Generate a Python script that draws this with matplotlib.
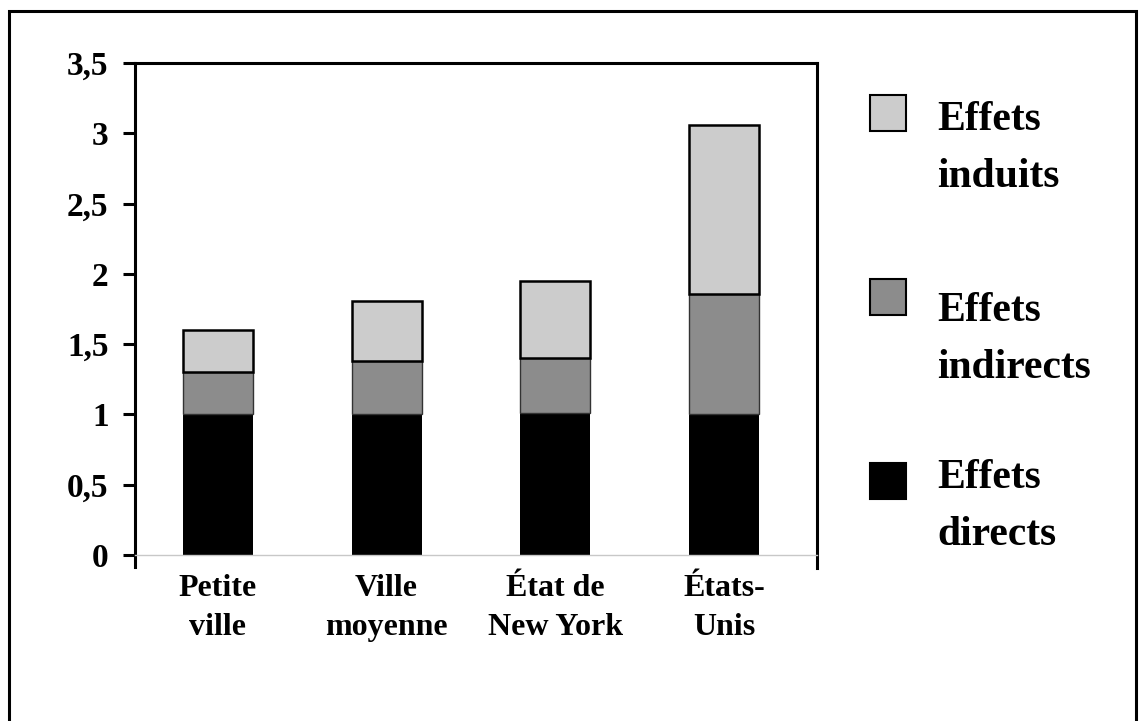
import matplotlib
matplotlib.use("Agg")
import matplotlib.pyplot as plt
from matplotlib.patches import Rectangle
import numpy as np

categories = ["Petite\nville", "Ville\nmoyenne", "État de\nNew York", "États-\nUnis"]
direct = [1.00, 1.00, 1.01, 1.00]
indirect = [0.30, 0.38, 0.39, 0.86]
induced = [0.30, 0.43, 0.55, 1.20]

series_labels = ["Effets\ninduits", "Effets\nindirects", "Effets\ndirects"]
colors = {"induits": "#cccccc", "indirects": "#8c8c8c", "directs": "#000000"}
yticks = [0, 0.5, 1, 1.5, 2, 2.5, 3, 3.5]
ytick_labels = ["0", "0,5", "1", "1,5", "2", "2,5", "3", "3,5"]

plt.rcParams["font.family"] = ["Liberation Serif", "DejaVu Serif"]
plt.rcParams["font.weight"] = "bold"

W, H = 1144, 721
fig = plt.figure(figsize=(W / 100, H / 100), dpi=100)


def fx(px):
    return px / W


def fy(py):
    return 1 - py / H


ax = fig.add_axes([fx(135), fy(555), fx(817) - fx(135), fy(63) - fy(555)])

x = np.arange(len(categories))
width = 0.415
bottom2 = np.array(direct)
bottom3 = bottom2 + np.array(indirect)

ax.bar(x, direct, width, color=colors["directs"], edgecolor="none", zorder=2)
ax.bar(x, indirect, width, bottom=bottom2, color=colors["indirects"],
       edgecolor="#333333", linewidth=1.0, zorder=2)
ax.bar(x, induced, width, bottom=bottom3, color=colors["induits"],
       edgecolor="black", linewidth=1.8, zorder=3)

ax.set_xlim(-0.49, 3.55)
ax.set_ylim(0, 3.5)
ax.set_yticks(yticks)
ax.set_yticklabels(ytick_labels, fontsize=24, fontweight="bold")
ax.set_xticks(x)
ax.set_xticklabels(categories, fontsize=23, fontweight="bold", linespacing=1.42)

ax.tick_params(axis="y", direction="out", length=9, width=2.2, pad=10)
ax.tick_params(axis="x", length=0, pad=14)

for side in ["left", "right", "top"]:
    ax.spines[side].set_linewidth(2.2)
    ax.spines[side].set_color("black")
ax.spines["left"].set_bounds(-0.085, 3.5)
ax.spines["right"].set_bounds(-0.09, 3.5)
ax.spines["bottom"].set_color("#c8c8c8")
ax.spines["bottom"].set_linewidth(1.0)

# legend drawn by hand to match the layout of the original
# (square top, baseline of the second text line), in pixels
legend_items = [
    ("induits", series_labels[0], 95, 187),
    ("indirects", series_labels[1], 279, 378),
    ("directs", series_labels[2], 463, 545),
]
for key, label, sq_top, base in legend_items:
    fig.patches.append(Rectangle((fx(870), fy(sq_top + 36)), fx(36), fy(0) - fy(36),
                                 transform=fig.transFigure, facecolor=colors[key],
                                 edgecolor="black", linewidth=1.5))
    fig.text(fx(937), fy(base), label, fontsize=30, fontweight="bold",
             va="baseline", ha="left", linespacing=1.65)

# outer frame
fig.patches.append(Rectangle((fx(9), fy(740)), fx(1136) - fx(9), fy(11) - fy(740),
                             transform=fig.transFigure, fill=False,
                             edgecolor="black", linewidth=2.2))

fig.savefig("out.png", dpi=100)
